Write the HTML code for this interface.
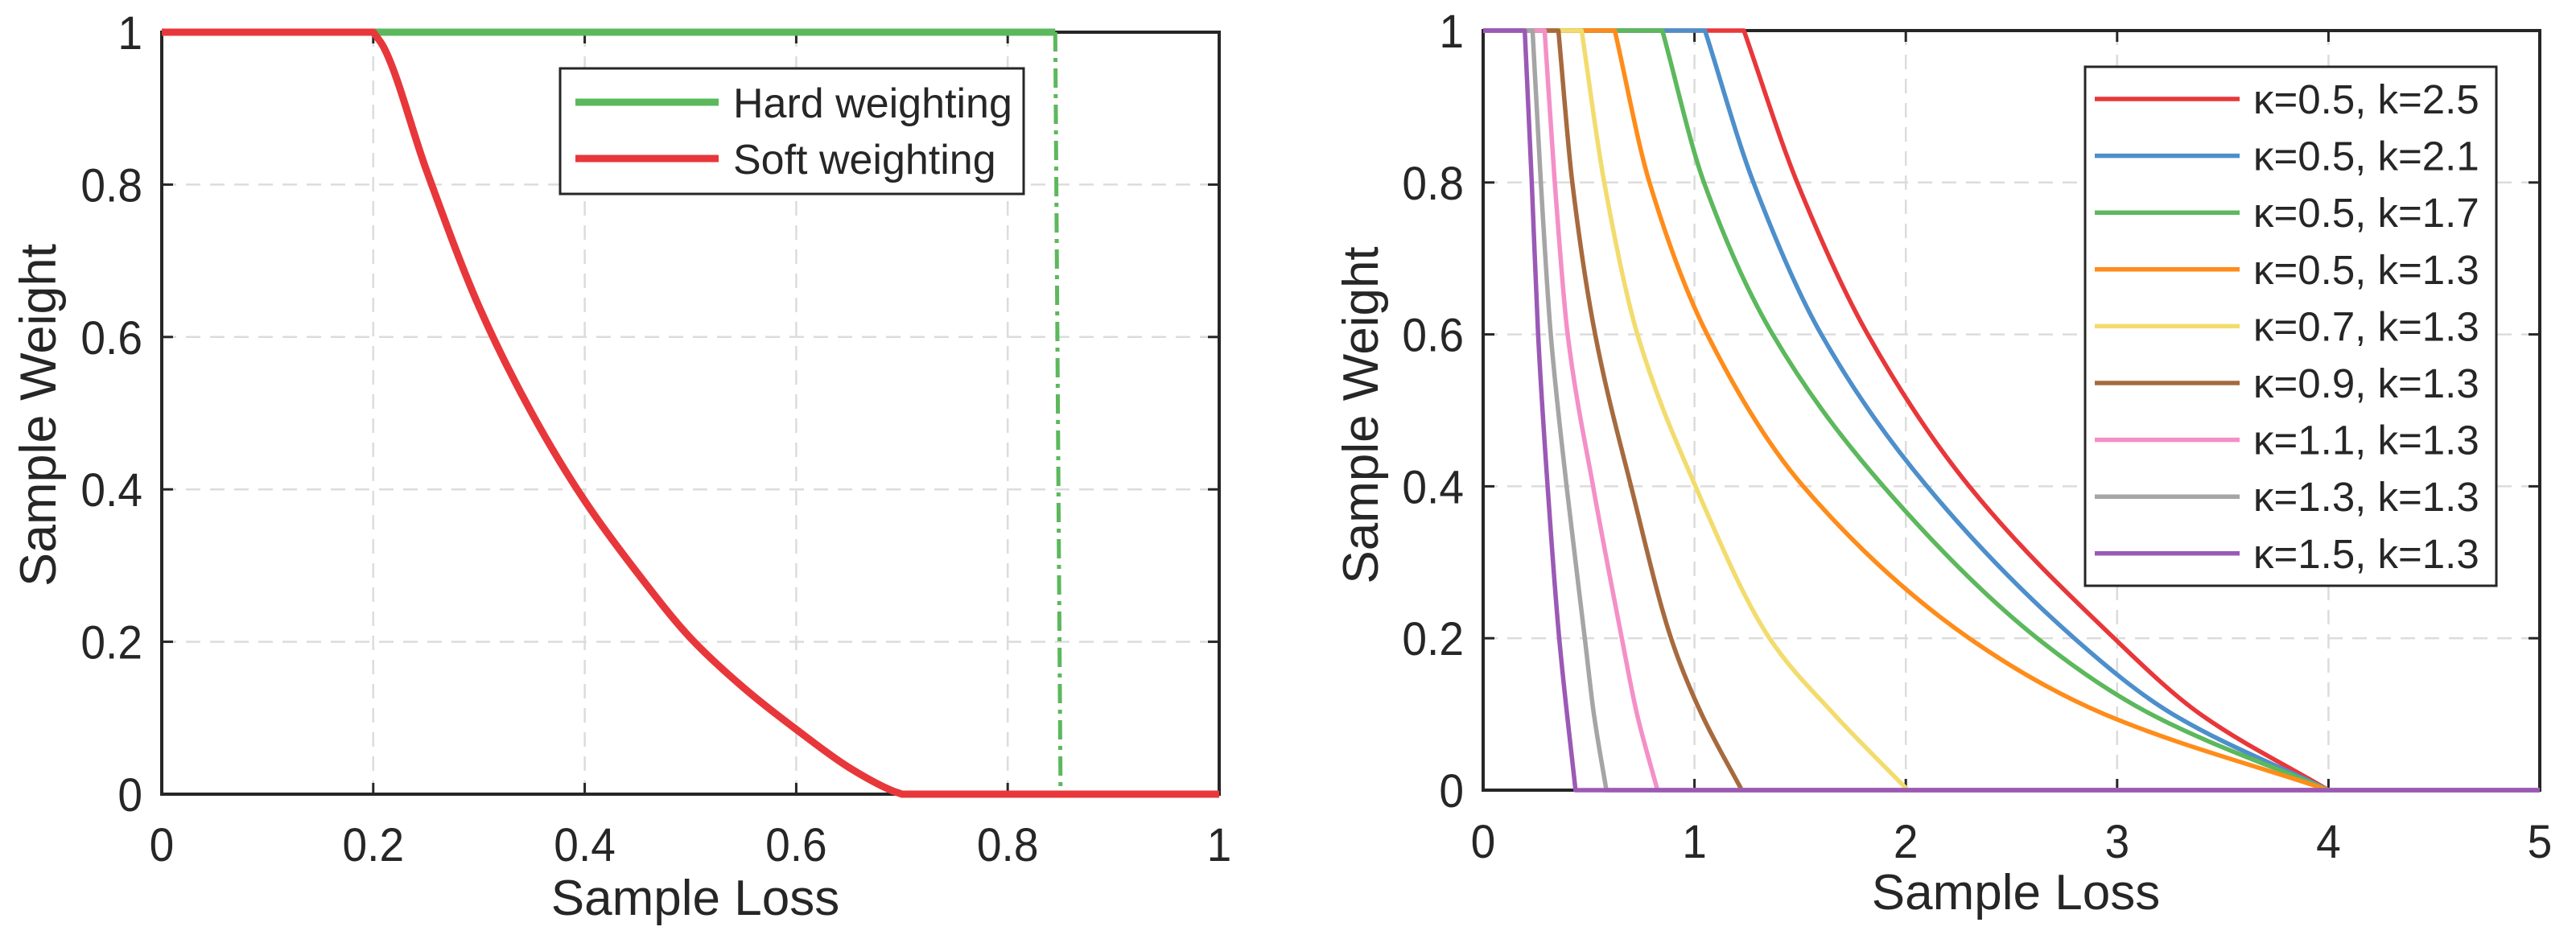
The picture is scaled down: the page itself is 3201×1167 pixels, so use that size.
<!DOCTYPE html>
<html><head><meta charset="utf-8"><style>
html,body{margin:0;padding:0;background:#fff}
svg{display:block}
text{font-family:"Liberation Sans",sans-serif;fill:#262626}
</style></head><body>
<svg id="c" width="3201" height="1167" viewBox="0 0 3201 1167" xmlns="http://www.w3.org/2000/svg"></svg>
<script>
// Left chart data
const leftXTicks=[0,0.2,0.4,0.6,0.8,1];
const leftXTickLabels=["0","0.2","0.4","0.6","0.8","1"];
const yTicks=[0,0.2,0.4,0.6,0.8,1];
const yTickLabels=["0","0.2","0.4","0.6","0.8","1"];
const softX=[0,0.2,0.21,0.25,0.3,0.35,0.4,0.45,0.5,0.55,0.6,0.65,0.69,0.7,1];
const softY=[1,1,0.98,0.82,0.64,0.5,0.385,0.29,0.205,0.14,0.085,0.035,0.005,0,0];
const hardX=[0,0.845];
const hardY=[1,1];
const hardDropX=[0.845,0.85];
const hardDropY=[1,0];
const hardTailX=[0.85,1];
const hardTailY=[0,0];
// Right chart data
const rightXTicks=[0,1,2,3,4,5];
const rightXTickLabels=["0","1","2","3","4","5"];
const seriesLabels=["κ=0.5, k=2.5","κ=0.5, k=2.1","κ=0.5, k=1.7","κ=0.5, k=1.3","κ=0.7, k=1.3","κ=0.9, k=1.3","κ=1.1, k=1.3","κ=1.3, k=1.3","κ=1.5, k=1.3"];
const seriesColors=["#e8373a","#4d8fcb","#5cb85c","#ff8c1a","#f2dc6e","#a66a3e","#f48fc7","#a5a5a5","#9b59b6"];
const commonY=[1,1,0.8,0.6,0.4,0.2,0.1,0,0];
const s1X=[0,1.234,1.486,1.82,2.30,2.986,3.394,4,5];
const s2X=[0,1.05,1.279,1.60,2.10,2.797,3.263,4,5];
const s3X=[0,0.848,1.045,1.37,1.894,2.622,3.16,4,5];
const s4X=[0,0.623,0.787,1.06,1.515,2.30,2.94,4,5];
const s5X=[0,0.466,0.573,0.73,1.005,1.355,1.66,2.01,5];
const s6X=[0,0.356,0.422,0.53,0.70,0.889,1.034,1.224,5];
const s7X=[0,0.291,0.339,0.40,0.52,0.656,0.728,0.825,5];
const s8X=[0,0.234,0.273,0.32,0.395,0.481,0.524,0.583,5];
const s9X=[0,0.197,0.23,0.26,0.305,0.36,0.437,5];
const s9Y=[1,1,0.8,0.6,0.4,0.2,0,0];
const seriesX=[s1X,s2X,s3X,s4X,s5X,s6X,s7X,s8X,s9X];
const seriesY=[commonY,commonY,commonY,commonY,commonY,commonY,commonY,commonY,s9Y];

const NS="http://www.w3.org/2000/svg";
const svg=document.getElementById('c');
function mk(tag,attrs,parent){const e=document.createElementNS(NS,tag);for(const k in attrs)e.setAttribute(k,attrs[k]);(parent||svg).appendChild(e);return e;}

function grid(P,xTicks,xmax,prefix){
  const sx=v=>P.x0+(v/xmax)*(P.x1-P.x0);
  const sy=v=>P.y1-v*(P.y1-P.y0);
  xTicks.forEach((t,i)=>{
    if(i>0&&i<xTicks.length-1){const l=mk('line',{x1:sx(t),x2:sx(t),y1:P.y0,y2:P.y1,stroke:'#dcdcdc','stroke-width':2.5,'stroke-dasharray':'18 12'});
    }
  });
  yTicks.forEach((t,i)=>{
    if(i>0&&i<yTicks.length-1){const l=mk('line',{x1:P.x0,x2:P.x1,y1:sy(t),y2:sy(t),stroke:'#dcdcdc','stroke-width':2.5,'stroke-dasharray':'18 12'});
    }
  });
  return {sx,sy};
}
function frame(P,xTicks,xLabels,xmax,prefix,xly){
  const sx=v=>P.x0+(v/xmax)*(P.x1-P.x0);
  const sy=v=>P.y1-v*(P.y1-P.y0);
  const b=mk('rect',{x:P.x0,y:P.y0,width:P.x1-P.x0,height:P.y1-P.y0,fill:'none',stroke:'#262626','stroke-width':4});
  
  const fs=58,cond=0.95;
  xTicks.forEach((t,i)=>{
    mk('line',{x1:sx(t),x2:sx(t),y1:P.y1,y2:P.y1-14,stroke:'#262626','stroke-width':3});
    mk('line',{x1:sx(t),x2:sx(t),y1:P.y0,y2:P.y0+14,stroke:'#262626','stroke-width':3});
    const tx=mk('text',{x:sx(t),y:xly,'font-size':fs,'text-anchor':'middle',transform:`translate(${sx(t)},0) scale(${cond},1) translate(${-sx(t)},0)`});
    tx.textContent=xLabels[i];
    
  });
  yTicks.forEach((t,i)=>{
    mk('line',{x1:P.x0,x2:P.x0+14,y1:sy(t),y2:sy(t),stroke:'#262626','stroke-width':3});
    mk('line',{x1:P.x1,x2:P.x1-14,y1:sy(t),y2:sy(t),stroke:'#262626','stroke-width':3});
    const xx=P.x0-24;
    const tx=mk('text',{x:xx,y:sy(t)+21,'font-size':fs,'text-anchor':'end',transform:`translate(${xx},0) scale(${cond},1) translate(${-xx},0)`});
    tx.textContent=yTickLabels[i];
    
  });
}
function path(xs,ys,sx,sy){return xs.map((x,i)=>(i?'L':'M')+sx(x).toFixed(1)+','+sy(ys[i]).toFixed(1)).join(' ');}
function smooth(xs,ys,sx,sy){
  const n=xs.length;
  let d='M'+sx(xs[0]).toFixed(1)+','+sy(ys[0]).toFixed(1);
  let i=0;
  while(i<n-1){
    if(ys[i]===ys[i+1]){d+=' L'+sx(xs[i+1]).toFixed(1)+','+sy(ys[i+1]).toFixed(1);i++;continue;}
    let j=i;while(j<n-1&&ys[j]!==ys[j+1])j++;
    const X=xs.slice(i,j+1),Y=ys.slice(i,j+1),m=X.length;
    const dk=[];for(let k=0;k<m-1;k++)dk.push((Y[k+1]-Y[k])/(X[k+1]-X[k]));
    const t=[];for(let k=0;k<m;k++){
      if(k===0)t.push(dk[0]);else if(k===m-1)t.push(dk[m-2]);
      else t.push(dk[k-1]*dk[k]<=0?0:2/(1/dk[k-1]+1/dk[k]));
    }
    for(let k=0;k<m-1;k++){
      const h=X[k+1]-X[k];
      const c1x=X[k]+h/3,c1y=Y[k]+t[k]*h/3,c2x=X[k+1]-h/3,c2y=Y[k+1]-t[k+1]*h/3;
      d+=` C${sx(c1x).toFixed(1)},${sy(c1y).toFixed(1)} ${sx(c2x).toFixed(1)},${sy(c2y).toFixed(1)} ${sx(X[k+1]).toFixed(1)},${sy(Y[k+1]).toFixed(1)}`;
    }
    i=j;
  }
  return d;
}

let e;
// LEFT
const L={x0:201,x1:1515,y0:40,y1:987};
const la=grid(L,leftXTicks,1,'left');
frame(L,leftXTicks,leftXTickLabels,1,'left',1070);
e=mk('path',{d:path(hardX,hardY,la.sx,la.sy),fill:'none',stroke:'#5cb85c','stroke-width':9});

e=mk('path',{d:path(hardDropX,hardDropY,la.sx,la.sy),fill:'none',stroke:'#5cb85c','stroke-width':5,'stroke-dasharray':'24 8 5 8'});

e=mk('path',{d:path(hardTailX,hardTailY,la.sx,la.sy),fill:'none',stroke:'#5cb85c','stroke-width':9});

e=mk('path',{d:smooth(softX,softY,la.sx,la.sy),fill:'none',stroke:'#e8373a','stroke-width':9,'stroke-linejoin':'round'});

e=mk('rect',{x:696,y:85,width:576,height:156,fill:'#fff',stroke:'#262626','stroke-width':3});

[['Hard weighting','#5cb85c',127],['Soft weighting','#e8373a',197]].forEach(([t,c,y])=>{
  const ln=mk('line',{x1:715,x2:893,y1:y,y2:y,stroke:c,'stroke-width':9});
  
  const tx=mk('text',{x:911,y:y+19,'font-size':52});
  tx.textContent=t;
});
e=mk('text',{x:0,y:0,'font-size':63,'text-anchor':'middle',transform:'translate(69,516) rotate(-90)'});
e.textContent='Sample Weight';
e=mk('text',{x:864,y:1137,'font-size':62,'text-anchor':'middle'});
e.textContent='Sample Loss';

// RIGHT
const R={x0:1843,x1:3156,y0:38,y1:982};
const ra=grid(R,rightXTicks,5,'right');
frame(R,rightXTicks,rightXTickLabels,5,'right',1066);
for(let i=0;i<seriesX.length;i++){
  e=mk('path',{d:smooth(seriesX[i],seriesY[i],ra.sx,ra.sy),fill:'none',stroke:seriesColors[i],'stroke-width':5.5,'stroke-linejoin':'round'});
  
}
e=mk('rect',{x:2591,y:83,width:511,height:645,fill:'#fff',stroke:'#262626','stroke-width':3});

seriesLabels.forEach((t,i)=>{
  const y=123+i*70.6;
  const ln=mk('line',{x1:2603,x2:2783,y1:y,y2:y,stroke:seriesColors[i],'stroke-width':5.5});
  
  const tx=mk('text',{x:2800,y:y+18,'font-size':51});
  tx.textContent=t;
});
e=mk('text',{x:0,y:0,'font-size':62,'text-anchor':'middle',transform:'translate(1712,516) rotate(-90)'});
e.textContent='Sample Weight';
e=mk('text',{x:2505,y:1130,'font-size':62,'text-anchor':'middle'});
e.textContent='Sample Loss';
</script>
</body></html>
